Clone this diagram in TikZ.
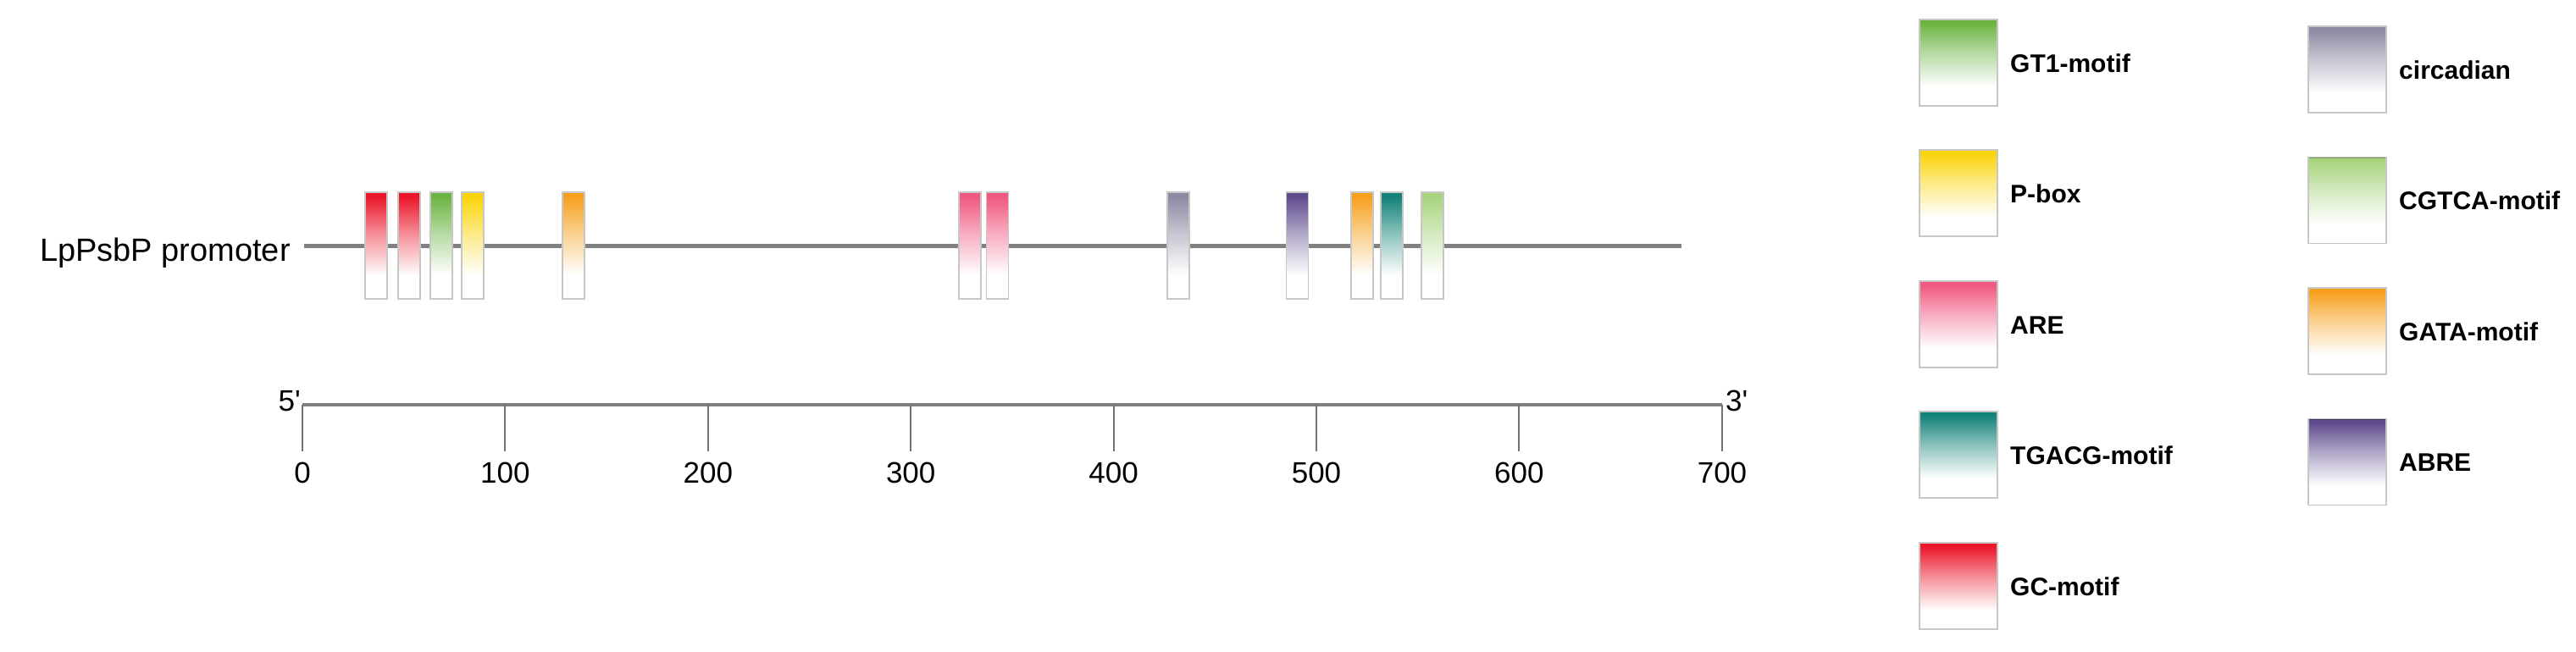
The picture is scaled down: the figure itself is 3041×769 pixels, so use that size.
\documentclass[tikz,border=0pt]{standalone}
\usepackage{fontspec}
\setmainfont{Liberation Sans}
\definecolor{gcred}{RGB}{235,22,42}
\definecolor{gtgreen}{RGB}{108,180,66}
\definecolor{pboxyellow}{RGB}{250,212,10}
\definecolor{arepink}{RGB}{240,88,128}
\definecolor{tgacgteal}{RGB}{18,130,120}
\definecolor{circgray}{RGB}{140,138,162}
\definecolor{cgtcagreen}{RGB}{168,212,126}
\definecolor{gataorange}{RGB}{246,160,30}
\definecolor{abrepurple}{RGB}{95,76,142}
\definecolor{linegray}{RGB}{128,128,128}
\colorlet{motiftop}{white}
\pgfdeclareverticalshading[motiftop]{motiffade}{100bp}{color(0bp)=(white); color(36bp)=(white); color(56bp)=(motiftop!50!white); color(73bp)=(motiftop); color(100bp)=(motiftop)}
\tikzset{
  motifbox/.style={draw=black!22, line width=1.2pt, fill=white, inner sep=0pt, outer sep=0pt,
    path picture={
      \colorlet{motiftop}{#1}
      \shade[shading=motiffade]
        (path picture bounding box.south west) rectangle (path picture bounding box.north east);
      \draw[#1!70!black, line width=2.5pt]
        (path picture bounding box.north west) -- (path picture bounding box.north east);
    }},
  site/.style={motifbox=#1, minimum width=26pt, minimum height=126pt},
  keybox/.style={motifbox=#1, minimum width=92pt, minimum height=102pt},
  keylabel/.style={anchor=base west, inner sep=0pt, font=\fontsize{30}{36}\selectfont\bfseries},
  ticklabel/.style={anchor=base, inner sep=0pt, font=\fontsize{35}{42}\selectfont},
  tickline/.style={black!55, line width=2pt},
}
\begin{document}
\begin{tikzpicture}[x=1pt,y=-1pt]
\useasboundingbox[fill=white] (0,0) rectangle (3041,769);

% promoter
\node[anchor=base east, inner sep=0pt, font=\fontsize{38}{46}\selectfont] (plabel) at (343,308) {LpPsbP promoter};
\coordinate (pstart) at (359,290);
\coordinate (pend) at (1985,290);
\draw[linegray, line width=5pt] (pstart) -- (pend);

\node[site=gcred]      (s1)  at (444,290) {};
\node[site=gcred]      (s2)  at (483,290) {};
\node[site=gtgreen]    (s3)  at (521,290) {};
\node[site=pboxyellow] (s4)  at (558,290) {};
\node[site=gataorange] (s5)  at (677,290) {};
\node[site=arepink]    (s6)  at (1145,290) {};
\node[site=arepink]    (s7)  at (1177.5,290) {};
\node[site=circgray]   (s8)  at (1391,290) {};
\node[site=abrepurple] (s9)  at (1531.5,290) {};
\node[site=gataorange] (s10) at (1608,290) {};
\node[site=tgacgteal]  (s11) at (1643,290) {};
\node[site=cgtcagreen] (s12) at (1691,290) {};

% axis
\coordinate (a0) at (357,478);
\coordinate (a700) at (2033,478);
\draw[linegray, line width=4pt] (a0) -- (a700);
\foreach \v/\x in {0/357,100/596.4,200/835.8,300/1075.2,400/1314.6,500/1554,600/1793.4,700/2033}{
  \coordinate (t\v) at (\x,478);
  \coordinate (b\v) at (\x,533);
  \draw[tickline] (t\v) -- (b\v);
  \node[ticklabel] (n\v) at (\x,570) {\v};
}
\node[anchor=base east, inner sep=0pt, font=\fontsize{35}{42}\selectfont] (five) at (355,485) {5\textquotesingle};
\node[anchor=base west, inner sep=0pt, font=\fontsize{35}{42}\selectfont] (three) at (2037,485) {3\textquotesingle};

% legend column 1
\node[keybox=gtgreen]    (k1) at (2312,74) {};
\node[keylabel] (l1) at (2373,85) {GT1-motif};
\node[keybox=pboxyellow] (k2) at (2312,228) {};
\node[keylabel] (l2) at (2373,239) {P-box};
\node[keybox=arepink]    (k3) at (2312,383) {};
\node[keylabel] (l3) at (2373,394) {ARE};
\node[keybox=tgacgteal]  (k4) at (2312,537) {};
\node[keylabel] (l4) at (2373,548) {TGACG-motif};
\node[keybox=gcred]      (k5) at (2312,692) {};
\node[keylabel] (l5) at (2373,703) {GC-motif};

% legend column 2
\node[keybox=circgray]   (k6) at (2771,82) {};
\node[keylabel] (l6) at (2832,93) {circadian};
\node[keybox=cgtcagreen] (k7) at (2771,236.5) {};
\node[keylabel] (l7) at (2832,247.5) {CGTCA-motif};
\node[keybox=gataorange] (k8) at (2771,391) {};
\node[keylabel] (l8) at (2832,402) {GATA-motif};
\node[keybox=abrepurple] (k9) at (2771,545.5) {};
\node[keylabel] (l9) at (2832,556.5) {ABRE};
\end{tikzpicture}
\end{document}
